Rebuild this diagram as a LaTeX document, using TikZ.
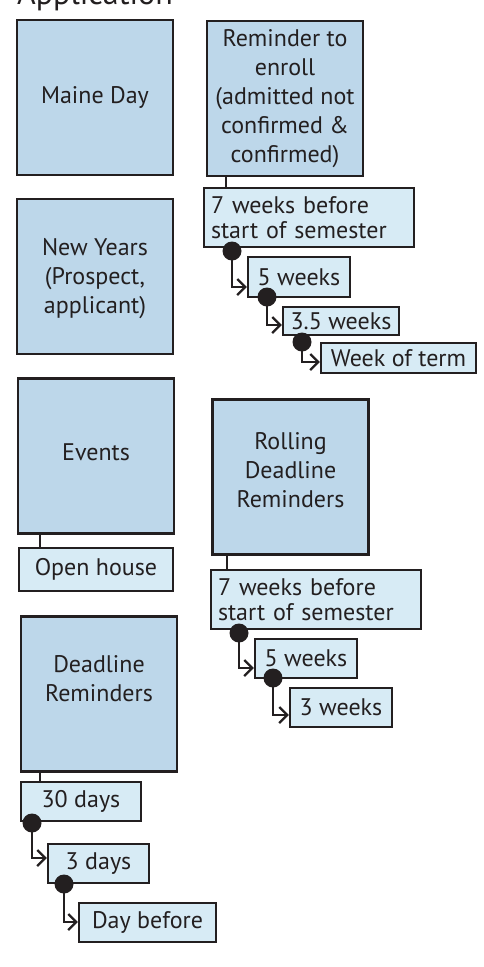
\documentclass[tikz,border=0pt]{standalone}
\usepackage{fontspec}
\setmainfont{PT Sans}
\usetikzlibrary{arrows.meta,calc}
\definecolor{ink}{HTML}{231F20}
\definecolor{topicfill}{HTML}{BDD7EA}
\definecolor{stepfill}{HTML}{D7EBF5}
\tikzset{
  topic/.style={draw=ink, line width=2.6pt, fill=topicfill, inner sep=0pt,
    minimum width=156pt, minimum height=155pt},
  topictext/.style={text=ink, font=\fontsize{24}{29}\selectfont, align=center},
  stepbox/.style={draw=ink, line width=2.4pt, fill=stepfill, inner sep=0pt,
    text=ink, font=\fontsize{24}{25}\selectfont, align=center},
  link/.style={draw=ink, line width=2.4pt},
  follow/.style={draw=ink, line width=2.2pt, -{Straight Barb[length=8pt,width=16pt,line width=2.2pt]}},
  dot/.style={circle, fill=ink, inner sep=0pt, minimum size=19pt},
}
\begin{document}
\begin{tikzpicture}[x=1pt, y=-1pt]
\useasboundingbox (0,0) rectangle (483,967);

% heading, partly above the page edge
\node[anchor=base west, inner sep=0pt, text=ink, font=\fontsize{32}{34}\selectfont] (title) at (17,4) {Application};

% topic boxes
\node[topic, label={[topictext]center:Maine Day}] (maine) at (95,97.5) {};
\node[topic, label={[topictext]center:Reminder to\\enroll\\(admitted not\\confirmed \&\\confirmed)}] (remind) at (285,98.5) {};
\node[topic, label={[topictext, yshift=-2pt]center:New Years\\(Prospect,\\applicant)}] (newyears) at (95,276.5) {};
\node[topic, label={[topictext, yshift=4pt]center:Events}] (events) at (96,456) {};
\node[topic, label={[topictext, yshift=7pt]center:Rolling\\Deadline\\Reminders}] (rolling) at (290.5,477) {};
\node[topic, label={[topictext, yshift=15pt]center:Deadline\\Reminders}] (deadline) at (99,694) {};

% step boxes
\node[stepbox, minimum width=210pt, minimum height=59pt, text width=196pt, align=left] (w7a) at (309,217.5) {7 weeks before\\start of semester};
\node[stepbox, minimum width=102pt, minimum height=40pt] (w5a) at (299,277) {5 weeks};
\node[stepbox, minimum width=116pt, minimum height=28pt] (w35) at (341,321) {3.5 weeks};
\node[stepbox, minimum width=155pt, minimum height=30pt] (wterm) at (398.5,358) {Week of term};

\node[stepbox, minimum width=154pt, minimum height=43pt] (open) at (96,569.5) {Open house};

\node[stepbox, minimum width=210pt, minimum height=59pt, text width=196pt, align=left] (w7b) at (316,599.5) {7 weeks before\\start of semester};
\node[stepbox, minimum width=102pt, minimum height=39pt] (w5b) at (306,658.5) {5 weeks};
\node[stepbox, minimum width=102pt, minimum height=39pt] (w3b) at (341,707.5) {3 weeks};

\node[stepbox, minimum width=120pt, minimum height=39pt] (d30) at (81,801.5) {30 days};
\node[stepbox, minimum width=101pt, minimum height=39pt] (d3) at (98.5,863.5) {3 days};
\node[stepbox, minimum width=137pt, minimum height=39pt] (dbefore) at (147.5,922.5) {Day before};

% stems from topic boxes to their first step
\draw[link] (remind.south -| 226,0) -- (w7a.north -| 226,0);
\draw[link] (events.south -| 40,0) -- (open.north -| 40,0);
\draw[link] (rolling.south -| 227,0) -- (w7b.north -| 227,0);
\draw[link] (deadline.south -| 40,0) -- (d30.north -| 40,0);

% follow-up dots
\node[dot] (p1) at (232,251) {};
\node[dot] (p2) at (267,297) {};
\node[dot] (p3) at (302,342) {};
\node[dot] (p4) at (239,633) {};
\node[dot] (p5) at (273,678) {};
\node[dot] (p6) at (32,823) {};
\node[dot] (p7) at (64,884) {};

% follow-up arrows
\coordinate (t1) at (w5a.west |- 0,287);
\coordinate (t2) at (w35.west |- 0,325);
\coordinate (t3) at (wterm.west |- 0,362);
\coordinate (t4) at (w5b.west |- 0,668);
\coordinate (t5) at (w3b.west |- 0,715);
\coordinate (t6) at (d3.west |- 0,858);
\coordinate (t7) at (dbefore.west |- 0,922);
\draw[follow] (p1.center) |- (t1);
\draw[follow] (p2.center) |- (t2);
\draw[follow] (p3.center) |- (t3);
\draw[follow] (p4.center) |- (t4);
\draw[follow] (p5.center) |- (t5);
\draw[follow] (p6.center) |- (t6);
\draw[follow] (p7.center) |- (t7);
\end{tikzpicture}
\end{document}
